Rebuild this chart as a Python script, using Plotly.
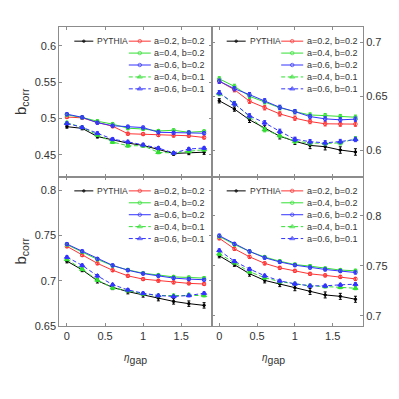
import plotly.graph_objects as go

# ---------- data ----------
eta = [0, 0.2, 0.4, 0.6, 0.8, 1.0, 1.2, 1.4, 1.6, 1.8]

series_names = ['PYTHIA', 'a=0.2, b=0.2', 'a=0.4, b=0.2', 'a=0.6, b=0.2', 'a=0.4, b=0.1', 'a=0.6, b=0.1']

# top left
tl_pythia = [0.4887, 0.4864, 0.4751, 0.4706, 0.4661, 0.4629, 0.4570, 0.4518, 0.4527, 0.4536]
tl_a02b02 = [0.5020, 0.5008, 0.4946, 0.4893, 0.4790, 0.4785, 0.4772, 0.4765, 0.4762, 0.4738]
tl_a04b02 = [0.5050, 0.5014, 0.4962, 0.4922, 0.4866, 0.4855, 0.4828, 0.4837, 0.4810, 0.4822]
tl_a06b02 = [0.5059, 0.5016, 0.4941, 0.4900, 0.4887, 0.4875, 0.4810, 0.4803, 0.4806, 0.4797]
tl_a04b01 = [0.4941, 0.4878, 0.4774, 0.4675, 0.4625, 0.4625, 0.4534, 0.4525, 0.4548, 0.4571]
tl_a06b01 = [0.4932, 0.4878, 0.4797, 0.4715, 0.4679, 0.4638, 0.4593, 0.4525, 0.4580, 0.4593]
tl_err_pythia = [0.002, 0.002, 0.002, 0.002, 0.002, 0.002, 0.0025, 0.0025, 0.0025, 0.003]
tl_err_model = [0.002, 0.002, 0.002, 0.002, 0.002, 0.002, 0.002, 0.002, 0.002, 0.002]

# top right
tr_pythia = [0.6458, 0.6381, 0.6281, 0.6204, 0.6128, 0.6082, 0.6043, 0.6031, 0.6000, 0.5982]
tr_a02b02 = [0.6640, 0.6561, 0.6454, 0.6393, 0.6336, 0.6296, 0.6265, 0.6244, 0.6241, 0.6241]
tr_a04b02 = [0.6662, 0.6592, 0.6500, 0.6448, 0.6393, 0.6357, 0.6326, 0.6320, 0.6311, 0.6305]
tr_a06b02 = [0.6640, 0.6570, 0.6515, 0.6458, 0.6397, 0.6357, 0.6311, 0.6290, 0.6281, 0.6287]
tr_a04b01 = [0.6525, 0.6433, 0.6311, 0.6189, 0.6134, 0.6082, 0.6067, 0.6061, 0.6067, 0.6104]
tr_a06b01 = [0.6533, 0.6430, 0.6318, 0.6253, 0.6174, 0.6100, 0.6078, 0.6067, 0.6079, 0.6098]
tr_err_pythia = [0.002, 0.002, 0.0025, 0.0025, 0.0025, 0.003, 0.003, 0.003, 0.003, 0.003]
tr_err_model = [0.002, 0.002, 0.002, 0.002, 0.002, 0.002, 0.002, 0.002, 0.002, 0.002]

# bottom left
bl_pythia = [0.7217, 0.7120, 0.7000, 0.6927, 0.6880, 0.6844, 0.6808, 0.6772, 0.6747, 0.6728]
bl_a02b02 = [0.7380, 0.7283, 0.7192, 0.7116, 0.7054, 0.7018, 0.7000, 0.6982, 0.6971, 0.6964]
bl_a04b02 = [0.7399, 0.7318, 0.7236, 0.7166, 0.7120, 0.7083, 0.7062, 0.7043, 0.7036, 0.7029]
bl_a06b02 = [0.7405, 0.7326, 0.7242, 0.7170, 0.7116, 0.7079, 0.7054, 0.7029, 0.7018, 0.7011]
bl_a04b01 = [0.7236, 0.7127, 0.7008, 0.6921, 0.6891, 0.6855, 0.6837, 0.6837, 0.6845, 0.6837]
bl_a06b01 = [0.7261, 0.7170, 0.7054, 0.6957, 0.6899, 0.6862, 0.6837, 0.6826, 0.6837, 0.6862]
bl_err_pythia = [0.002, 0.002, 0.0025, 0.0025, 0.0025, 0.0025, 0.003, 0.003, 0.003, 0.003]
bl_err_model = [0.0015, 0.0015, 0.0015, 0.0015, 0.0015, 0.0015, 0.0015, 0.0015, 0.0015, 0.0015]

# bottom right
br_pythia = [0.7600, 0.7515, 0.7422, 0.7355, 0.7318, 0.7282, 0.7245, 0.7210, 0.7196, 0.7167]
br_a02b02 = [0.7775, 0.7670, 0.7590, 0.7525, 0.7480, 0.7450, 0.7420, 0.7405, 0.7390, 0.7370]
br_a04b02 = [0.7794, 0.7713, 0.7644, 0.7588, 0.7546, 0.7513, 0.7497, 0.7474, 0.7458, 0.7451]
br_a06b02 = [0.7801, 0.7719, 0.7644, 0.7581, 0.7539, 0.7507, 0.7483, 0.7464, 0.7448, 0.7434]
br_a04b01 = [0.7620, 0.7532, 0.7441, 0.7382, 0.7343, 0.7321, 0.7301, 0.7294, 0.7287, 0.7277]
br_a06b01 = [0.7654, 0.7546, 0.7468, 0.7402, 0.7350, 0.7321, 0.7301, 0.7301, 0.7311, 0.7317]
br_err_pythia = [0.002, 0.002, 0.0025, 0.0025, 0.0025, 0.003, 0.003, 0.003, 0.003, 0.003]
br_err_model = [0.0015, 0.0015, 0.0015, 0.0015, 0.0015, 0.0015, 0.0015, 0.0015, 0.0015, 0.0015]

tl_yticks = [0.45, 0.5, 0.55, 0.6]
tr_yticks = [0.6, 0.65, 0.7]
bl_yticks = [0.65, 0.7, 0.75, 0.8]
br_yticks = [0.7, 0.75, 0.8]
x_ticks = [0, 0.5, 1, 1.5]

# ---------- styles ----------
W = H = 399
FONT = 'Liberation Sans, Arial, sans-serif'
AXIS_COLOR = '#8c8c8c'
TEXT_COLOR = '#333333'
STYLES = [
    dict(color='#000000', symbol='circle', size=2.5, dash='solid'),
    dict(color='#ff3333', symbol='circle-open', size=3.5, dash='solid'),
    dict(color='#33e033', symbol='circle-open', size=3.5, dash='solid'),
    dict(color='#3333ff', symbol='circle-open', size=3.5, dash='solid'),
    dict(color='#33e033', symbol='triangle-up', size=4.5, dash='4px,2.5px'),
    dict(color='#3333ff', symbol='triangle-up', size=4.5, dash='4px,2.5px'),
]

# panel pixel boxes: (left, right, top, bottom)
PX_L, PX_M, PX_R = 59.3, 211.7, 363.0
PY_T, PY_M, PY_B = 27.3, 179.3, 331.0

panels = [
    dict(x='x', y='y', box=(PX_L, PX_M, PY_T, PY_M), yr=[0.42, 0.626], yt=tl_yticks, side='left', bottom=False,
         data=[tl_pythia, tl_a02b02, tl_a04b02, tl_a06b02, tl_a04b01, tl_a06b01], err=(tl_err_pythia, tl_err_model)),
    dict(x='x2', y='y2', box=(PX_M, PX_R, PY_T, PY_M), yr=[0.5753, 0.7145], yt=tr_yticks, side='right', bottom=False,
         data=[tr_pythia, tr_a02b02, tr_a04b02, tr_a06b02, tr_a04b01, tr_a06b01], err=(tr_err_pythia, tr_err_model)),
    dict(x='x3', y='y3', box=(PX_L, PX_M, PY_M, PY_B), yr=[0.65, 0.815], yt=bl_yticks, side='left', bottom=True,
         data=[bl_pythia, bl_a02b02, bl_a04b02, bl_a06b02, bl_a04b01, bl_a06b01], err=(bl_err_pythia, bl_err_model)),
    dict(x='x4', y='y4', box=(PX_M, PX_R, PY_M, PY_B), yr=[0.69, 0.839], yt=br_yticks, side='right', bottom=True,
         data=[br_pythia, br_a02b02, br_a04b02, br_a06b02, br_a04b01, br_a06b01], err=(br_err_pythia, br_err_model)),
]


def fmt(v):
    return ('%g' % v)


fig = go.Figure()
layout = dict(width=W, height=H, margin=dict(l=0, r=0, t=0, b=0),
              paper_bgcolor='white', plot_bgcolor='rgba(0,0,0,0)', showlegend=False,
              font=dict(family=FONT, size=11, color=TEXT_COLOR))
annotations = []

for i, p in enumerate(panels):
    l, r, t, b = p['box']
    n = '' if i == 0 else str(i + 1)
    common = dict(showline=True, linecolor=AXIS_COLOR, linewidth=1, mirror='ticks', ticks='inside',
                  ticklen=3, tickcolor=AXIS_COLOR, showgrid=False, zeroline=False,
                  tickfont=dict(family=FONT, size=11, color=TEXT_COLOR))
    layout['xaxis' + n] = dict(common, domain=[l / W, r / W], anchor=p['y'], range=[-0.1, 1.9],
                               tickvals=x_ticks, ticktext=[fmt(v) for v in x_ticks],
                               showticklabels=p['bottom'])
    yax = dict(common, domain=[1 - b / H, 1 - t / H], anchor=p['x'], range=p['yr'],
               tickvals=p['yt'], ticktext=[fmt(v) for v in p['yt']], side=p['side'])
    if p['side'] == 'left':
        yax['title'] = dict(text='b<sub>corr</sub>', standoff=4, font=dict(family=FONT, size=15, color=TEXT_COLOR))
    layout['yaxis' + n] = yax

    for k, (vals, st) in enumerate(zip(p['data'], STYLES)):
        errs = p['err'][0] if k == 0 else p['err'][1]
        fig.add_trace(go.Scatter(
            x=eta, y=vals, xaxis=p['x'], yaxis=p['y'], mode='lines+markers',
            line=dict(color=st['color'], width=1, dash=st['dash']),
            marker=dict(symbol=st['symbol'], size=st['size'], color=st['color'],
                        line=dict(color=st['color'], width=1)),
            error_y=dict(type='data', array=errs, color=st['color'], thickness=1, width=1.5),
        ))

# legend glyphs drawn on an invisible pixel-space overlay axis
layout['xaxis5'] = dict(domain=[0, 1], range=[0, W], visible=False, anchor='y5', fixedrange=True)
layout['yaxis5'] = dict(domain=[0, 1], range=[H, 0], visible=False, anchor='x5', fixedrange=True)

ROW0, ROW_STEP = 14.5, 12.1
for p in panels:
    l, r, t, b = p['box']
    for k, (name, st) in enumerate(zip(series_names, STYLES)):
        if k == 0:
            x0, x1, tx, yy, fs = l + 15, l + 34, l + 36, t + ROW0, 8.5
        else:
            x0, x1, tx, yy, fs = l + 69.5, l + 91.5, l + 93, t + ROW0 + (k - 1) * ROW_STEP, 9
        fig.add_trace(go.Scatter(
            x=[x0, (x0 + x1) / 2, x1], y=[yy, yy, yy], xaxis='x5', yaxis='y5', mode='lines+markers',
            line=dict(color=st['color'], width=1, dash=st['dash']),
            marker=dict(symbol=st['symbol'], size=[0, st['size'], 0], color=st['color'],
                        line=dict(color=st['color'], width=1)),
            hoverinfo='skip',
        ))
        annotations.append(dict(x=tx / W, y=1 - yy / H, xref='paper', yref='paper', text=name,
                                showarrow=False, xanchor='left', yanchor='middle',
                                font=dict(family=FONT, size=fs, color=TEXT_COLOR)))

# x axis titles
for xc in [(PX_L + PX_M) / 2, (PX_M + PX_R) / 2]:
    annotations.append(dict(x=xc / W, y=1 - 374 / H, xref='paper', yref='paper',
                            text='<i><span style="font-size:10px">η</span></i><sub>gap</sub>',
                            showarrow=False, font=dict(family=FONT, size=15, color=TEXT_COLOR)))

layout['annotations'] = annotations
fig.update_layout(**layout)
# the page body has an 8px default margin; drop it so the figure sits at the window origin
fig.write_html("out.html", config={'displayModeBar': False},
               post_script="document.body.style.margin='0';")
